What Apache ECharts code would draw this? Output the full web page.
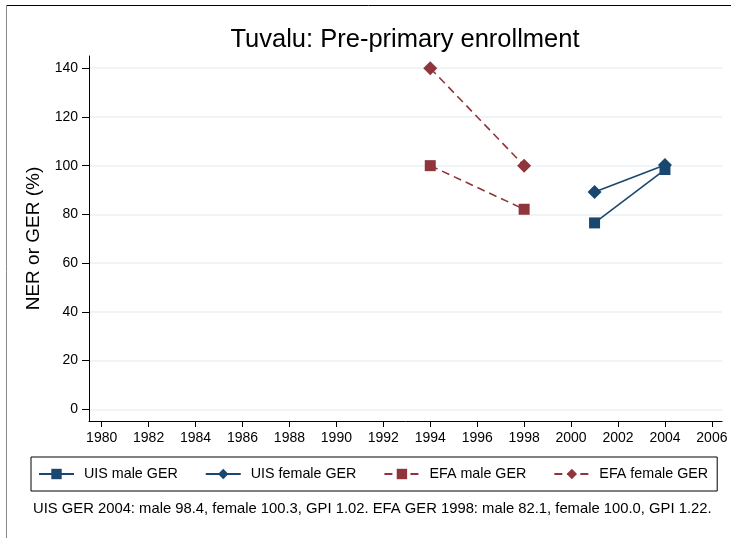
<!DOCTYPE html>
<html>
<head>
<meta charset="utf-8">
<script src="https://cdn.jsdelivr.net/npm/echarts@6/dist/echarts.min.js"></script>
<style>
html,body{margin:0;padding:0;background:#fff;}
#chart{width:731px;height:538px;}
</style>
</head>
<body>
<div id="chart"></div>
<script>
const yearTicks = [1980,1982,1984,1986,1988,1990,1992,1994,1996,1998,2000,2002,2004,2006];
const valueTicks = [0,20,40,60,80,100,120,140];
const uisMaleYears = [2001, 2004];
const uisMaleGER = [76.5, 98.4];
const uisFemaleYears = [2001, 2004];
const uisFemaleGER = [89.2, 100.3];
const efaMaleYears = [1994, 1998];
const efaMaleGER = [100, 82.1];
const efaFemaleYears = [1994, 1998];
const efaFemaleGER = [140, 100];
const titleText = 'Tuvalu: Pre-primary enrollment';
const noteText = 'UIS GER 2004: male 98.4, female 100.3, GPI 1.02. EFA GER 1998: male 82.1, female 100.0, GPI 1.22.';

const FONT = 'Liberation Sans, Arial, Helvetica, sans-serif';
const BLUE = '#1a476f';
const RED = '#90353b';

function pairs(xs, ys){ return xs.map((x,i)=>[x, ys[i]]); }

const chart = echarts.init(document.getElementById('chart'), null, {renderer:'canvas'});
chart.setOption({
  animation:false,
  backgroundColor:'#fff',
  graphic:[
    {type:'text', x:405, y:40, style:{text:titleText, font:'25.5px '+FONT, fill:'#000', align:'center', verticalAlign:'middle'}},
    {type:'text', left:33, top:501, style:{text:noteText, font:'14.8px '+FONT, fill:'#000'}},
    {type:'line', shape:{x1:6, y1:5.5, x2:731, y2:5.5}, style:{stroke:'#000', lineWidth:1}},
    {type:'line', shape:{x1:6.5, y1:5, x2:6.5, y2:538}, style:{stroke:'#888', lineWidth:1}}
  ],
  grid:{left:89, top:56, right:9, bottom:117, containLabel:false},
  xAxis:{
    type:'value', min:1979.46, max:2006.43,
    axisLine:{show:true, onZero:false, lineStyle:{color:'#000', width:1}},
    axisTick:{show:true, length:6, customValues:yearTicks, lineStyle:{color:'#000'}},
    axisLabel:{customValues:yearTicks, margin:10, fontFamily:FONT, fontSize:14, color:'#000',
      formatter:function(v){ return String(v); }},
    splitLine:{show:false}
  },
  yAxis:{
    type:'value', min:-4.8, max:145,
    name:'NER or GER (%)', nameLocation:'middle', nameGap:43,
    nameTextStyle:{fontFamily:FONT, fontSize:19, color:'#000'},
    axisLine:{show:true, onZero:false, lineStyle:{color:'#000', width:1}},
    axisTick:{show:true, length:7, customValues:valueTicks, lineStyle:{color:'#000'}},
    axisLabel:{customValues:valueTicks, margin:11, fontFamily:FONT, fontSize:14, color:'#000',
      formatter:function(v){ return String(v); }},
    splitLine:{show:true, lineStyle:{color:'#eaf2f3', width:1.5}}
  },
  legend:{
    left:31, top:457, orient:'horizontal',
    padding:[10,9,10,7],
    borderColor:'#000', borderWidth:1,
    itemWidth:35, itemHeight:13, itemGap:27,
    textStyle:{fontFamily:FONT, fontSize:14.3, color:'#000', padding:[0,0,0,5]},
    data:['UIS male GER','UIS female GER','EFA male GER','EFA female GER']
  },
  series:[
    {name:'UIS male GER', type:'line', data:pairs(uisMaleYears, uisMaleGER),
     symbol:'rect', symbolSize:11, itemStyle:{color:BLUE}, lineStyle:{color:BLUE, width:1.6}},
    {name:'UIS female GER', type:'line', data:pairs(uisFemaleYears, uisFemaleGER),
     symbol:'diamond', symbolSize:14, itemStyle:{color:BLUE}, lineStyle:{color:BLUE, width:1.6}},
    {name:'EFA male GER', type:'line', data:pairs(efaMaleYears, efaMaleGER),
     symbol:'rect', symbolSize:11, itemStyle:{color:RED}, lineStyle:{color:RED, width:1.6, type:[8,5]}},
    {name:'EFA female GER', type:'line', data:pairs(efaFemaleYears, efaFemaleGER),
     symbol:'diamond', symbolSize:14, itemStyle:{color:RED}, lineStyle:{color:RED, width:1.6, type:[8,5]}}
  ]
});
</script>
</body>
</html>
